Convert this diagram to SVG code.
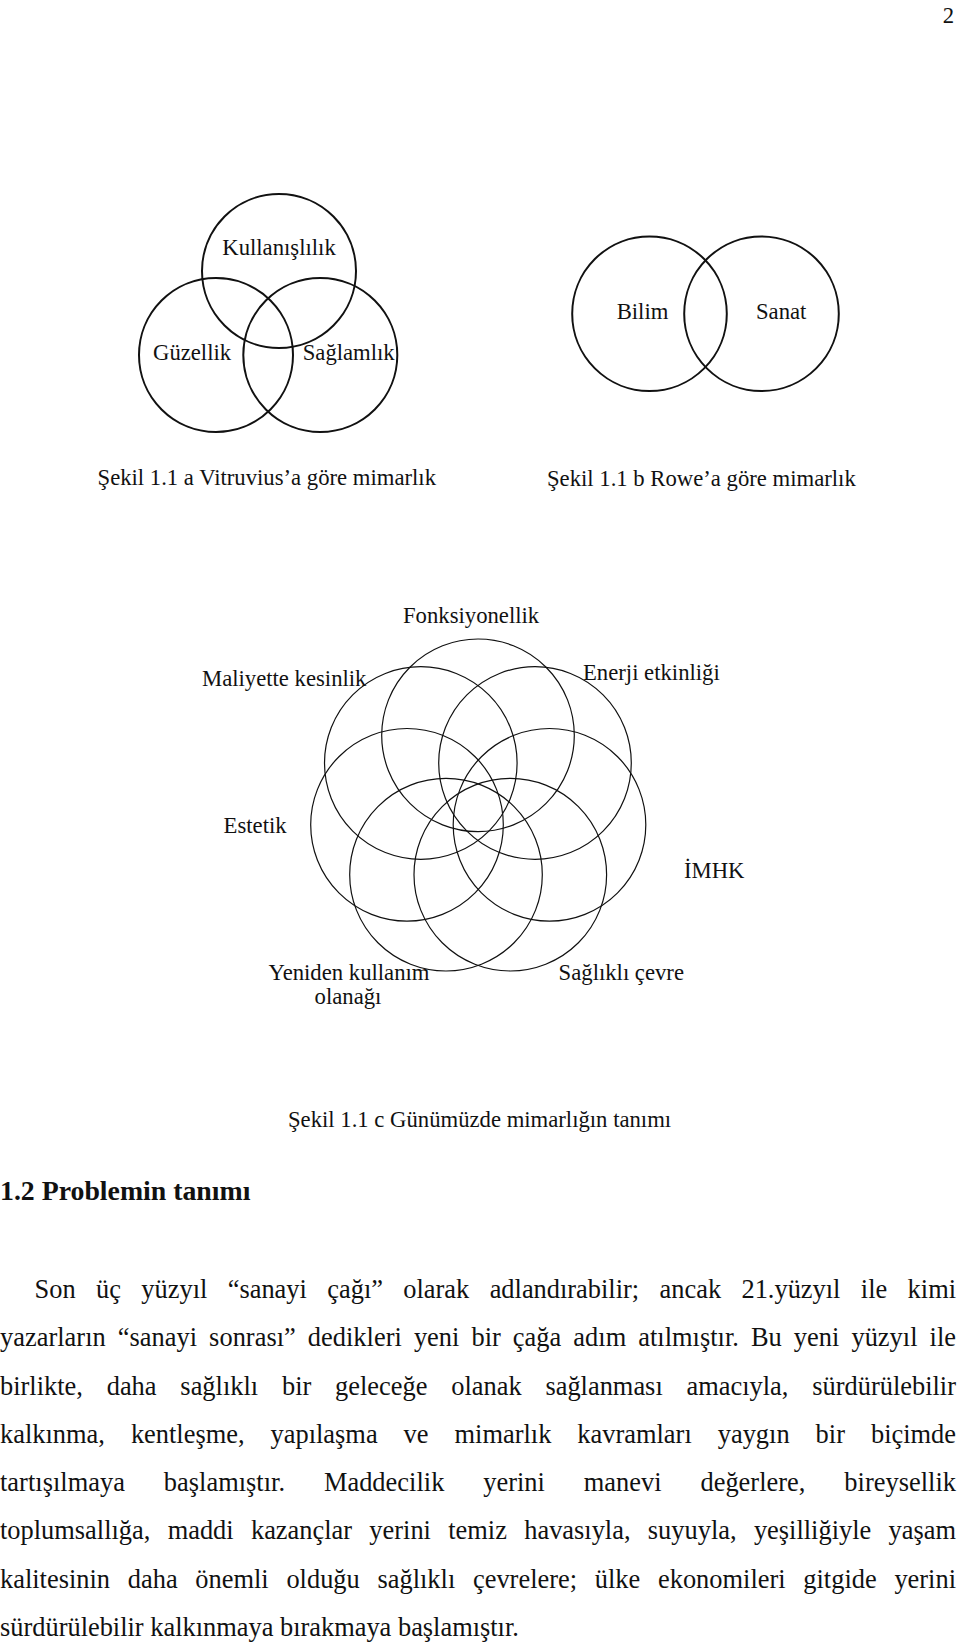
<svg xmlns="http://www.w3.org/2000/svg" width="960" height="1643" viewBox="0 0 960 1643">
<style>
.bg{fill:#ffffff}
.c{fill:none;stroke:#111;stroke-width:2}
.r{fill:none;stroke:#111;stroke-width:1.2}
.lbl{font-family:"Liberation Serif","Times New Roman",serif;font-size:22.7px;fill:#111}
.body{font-family:"Liberation Serif","Times New Roman",serif;font-size:26.4px;fill:#111}
.head{font-family:"Liberation Serif","Times New Roman",serif;font-size:27.8px;font-weight:bold;fill:#111}
</style>
<rect class="bg" x="0" y="0" width="960" height="1643"/>
<text id="page-number" class="lbl" x="942.7" y="22.7">2</text>

<g id="fig-a">
  <g id="kullanislilik"><circle class="c" cx="279" cy="271" r="77"/><text class="lbl" x="279" y="255" text-anchor="middle">Kullanışlılık</text></g>
  <g id="guzellik"><circle class="c" cx="216" cy="355" r="77"/><text class="lbl" x="153" y="360">Güzellik</text></g>
  <g id="saglamlik"><circle class="c" cx="320.3" cy="355" r="77"/><text class="lbl" x="302.7" y="360">Sağlamlık</text></g>
  <text id="caption-a" class="lbl" x="436" y="485" text-anchor="end">Şekil 1.1 a Vitruvius’a göre mimarlık</text>
</g>

<g id="fig-b">
  <g id="bilim"><circle class="c" cx="649.5" cy="313.7" r="77.3"/><text class="lbl" x="616.7" y="319">Bilim</text></g>
  <g id="sanat"><circle class="c" cx="761.5" cy="313.7" r="77.3"/><text class="lbl" x="756" y="319">Sanat</text></g>
  <text id="caption-b" class="lbl" x="547" y="486">Şekil 1.1 b Rowe’a göre mimarlık</text>
</g>

<g id="fig-c">
  <g id="fonksiyonellik"><circle class="r" cx="478" cy="735.3" r="96.3"/><text class="lbl" x="403" y="623">Fonksiyonellik</text></g>
  <g id="maliyette"><circle class="r" cx="420.8" cy="763" r="96.3"/><text class="lbl" x="202" y="686">Maliyette kesinlik</text></g>
  <g id="enerji"><circle class="r" cx="535" cy="763" r="96.3"/><text class="lbl" x="583" y="680">Enerji etkinliği</text></g>
  <g id="estetik"><circle class="r" cx="407" cy="824.8" r="96.3"/><text class="lbl" x="223.6" y="833">Estetik</text></g>
  <g id="imhk"><circle class="r" cx="549.5" cy="824.8" r="96.3"/><text class="lbl" x="684" y="878">İMHK</text></g>
  <g id="yeniden"><circle class="r" cx="446" cy="874.7" r="96.3"/><text class="lbl" x="349" y="980" text-anchor="middle">Yeniden kullanım</text><text class="lbl" x="348" y="1004" text-anchor="middle">olanağı</text></g>
  <g id="saglikli"><circle class="r" cx="510.3" cy="874.7" r="96.3"/><text class="lbl" x="558.6" y="980">Sağlıklı çevre</text></g>
  <text id="caption-c" class="lbl" x="288" y="1127">Şekil 1.1 c Günümüzde mimarlığın tanımı</text>
</g>

<g id="section">
  <text class="head" x="0" y="1200">1.2 Problemin tanımı</text>
  <text class="body" x="34.6" y="1298" word-spacing="13.8" textLength="921.4" lengthAdjust="spacing">Son üç yüzyıl “sanayi çağı” olarak adlandırabilir; ancak 21.yüzyıl ile kimi</text>
  <text class="body" x="0" y="1346" word-spacing="5.4" textLength="956" lengthAdjust="spacing">yazarların “sanayi sonrası” dedikleri yeni bir çağa adım atılmıştır. Bu yeni yüzyıl ile</text>
  <text class="body" x="0" y="1395" word-spacing="17.2" textLength="956" lengthAdjust="spacing">birlikte, daha sağlıklı bir geleceğe olanak sağlanması amacıyla, sürdürülebilir</text>
  <text class="body" x="0" y="1443" word-spacing="19.4" textLength="956" lengthAdjust="spacing">kalkınma, kentleşme, yapılaşma ve mimarlık kavramları yaygın bir biçimde</text>
  <text class="body" x="0" y="1491" word-spacing="32.2" textLength="956" lengthAdjust="spacing">tartışılmaya başlamıştır. Maddecilik yerini manevi değerlere, bireysellik</text>
  <text class="body" x="0" y="1539" word-spacing="10.7" textLength="956" lengthAdjust="spacing">toplumsallığa, maddi kazançlar yerini temiz havasıyla, suyuyla, yeşilliğiyle yaşam</text>
  <text class="body" x="0" y="1588" word-spacing="11.1" textLength="956" lengthAdjust="spacing">kalitesinin daha önemli olduğu sağlıklı çevrelere; ülke ekonomileri gitgide yerini</text>
  <text class="body" x="0" y="1636">sürdürülebilir kalkınmaya bırakmaya başlamıştır.</text>
</g>
</svg>
